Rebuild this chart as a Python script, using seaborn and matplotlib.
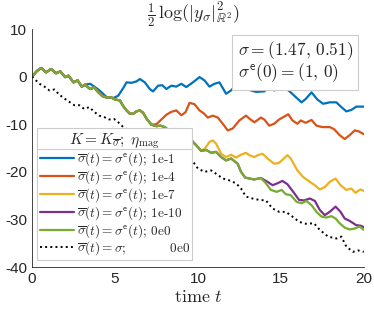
import matplotlib
matplotlib.use("Agg")
import matplotlib.pyplot as plt
from matplotlib.lines import Line2D
import seaborn as sns

# --- data (t, 0.5*log|y|^2) ---
t_green = [0, 0.3, 0.55, 0.85, 1.15, 1.45, 1.7, 2.0, 2.2, 2.5, 2.75, 3.0, 3.2,
           3.5, 3.75, 4.0, 4.25, 4.5, 4.75, 5.0, 5.3, 5.5, 5.7, 5.9, 6.1, 6.3, 6.5,
           6.7, 6.9, 7.2, 7.5, 7.75, 8.0, 8.3, 8.6, 8.9, 9.2, 9.5, 9.7, 9.95,
           10.2, 10.5, 10.8, 11.1, 11.4, 11.7, 12.0, 12.4, 12.6, 12.85, 13.1,
           13.4, 13.8, 14.1, 14.4, 14.75, 15.05, 15.3, 15.6, 15.95, 16.25, 16.55,
           16.85, 17.15, 17.45, 17.75, 18.05, 18.3, 18.55, 18.85, 19.15, 19.45,
           19.75, 20.0]
y_green = [0, 1.2, 1.8, 0.9, 1.6, 0.7, 1.1, -0.1, 0.2, -1.2, -0.8, -2.1, -1.7,
           -2.6, -2.3, -3.3, -4.1, -4.4, -4.3, -4.8, -5.0, -6.2, -7.1, -7.8, -7.8, -7.3, -7.1,
           -7.6, -8.8, -10.1, -10.4, -10.3, -10.6, -11.4, -11.0, -12.6, -13.0, -12.7, -13.7, -14.6,
           -15.6, -15.4, -16.0, -15.8, -16.9, -17.6, -17.2, -18.3, -20.0, -21.2, -21.4,
           -21.6, -21.3, -22.4, -23.8, -24.2, -23.8, -24.7, -24.9, -26.3, -26.6, -26.1,
           -27.0, -28.4, -29.4, -29.6, -29.3, -29.8, -30.8, -31.7, -32.1, -31.9,
           -31.5, -32.2]

# blue (1e-1) leaves the green curve at t = 3.2
t_blue_tail = [3.5, 3.8, 4.1, 4.5, 4.9, 5.2, 5.5, 5.7, 6.0, 6.3, 6.5, 6.8, 7.1,
               7.3, 7.6, 7.85, 8.1, 8.4, 8.7, 9.0, 9.3, 9.7, 10.1, 10.4, 10.7,
               11.0, 11.3, 11.7, 12.0, 12.3, 12.6, 12.9, 13.2, 13.5, 14.0, 14.3,
               14.6, 14.9, 15.2, 15.5, 15.9, 16.25, 16.5, 16.85, 17.2, 17.55,
               17.95, 18.35, 18.65, 18.95, 19.25, 19.55, 20.0]
y_blue_tail = [-1.5, -2.2, -3.0, -4.3, -4.5, -4.0, -2.4, -1.2, -1.3, -1.0, -0.5,
               -1.2, -2.6, -3.1, -1.9, -1.8, -2.6, -1.9, -2.1, -1.5, -2.2, -1.2,
               -0.1, -0.8, -2.1, -1.5, -1.2, -3.6, -2.9, -1.7, -2.2, -2.4, -2.9,
               -3.2, -3.1, -2.2, -2.9, -1.9, -2.3, -3.0, -4.3, -5.4, -4.7, -3.3,
               -4.8, -5.7, -5.4, -5.4, -6.4, -7.3, -7.0, -6.3, -6.3]

# red (1e-4) leaves the green curve at t = 7.2
t_red_tail = [7.5, 7.8, 8.1, 8.4, 8.7, 9.0, 9.25, 9.5, 9.8, 10.1, 10.35, 10.6,
              10.9, 11.2, 11.5, 11.8, 12.1, 12.5, 12.9, 13.1, 13.4, 13.8, 14.0,
              14.3, 14.6, 14.9, 15.45, 15.7, 16.0, 16.2, 16.5, 16.85, 17.15,
              17.5, 17.95, 18.2, 18.55, 18.85, 19.15, 19.45, 19.7, 20.0]
y_red_tail = [-10.0, -9.0, -8.0, -7.4, -7.1, -8.1, -7.5, -5.5, -5.8, -7.1, -7.7,
              -8.6, -8.2, -8.6, -9.9, -11.3, -10.9, -9.2, -8.2, -8.8, -9.6, -8.6,
              -9.0, -10.3, -9.9, -9.0, -7.9, -9.2, -9.9, -9.2, -9.7, -9.1, -10.3,
              -10.6, -10.6, -11.0, -12.3, -13.1, -12.3, -11.3, -11.5, -12.1]

# yellow (1e-7) leaves the green curve at t = 10.2
t_yellow_tail = [10.45, 10.7, 10.9, 11.1, 11.4, 11.7, 12.0, 12.3, 12.6, 12.9,
                 13.1, 13.4, 13.6, 13.9, 14.2, 14.6, 14.9, 15.4, 15.6, 16.0,
                 16.35, 16.75, 17.05, 17.35, 17.65, 17.95, 18.3, 18.6, 18.95,
                 19.25, 19.5, 19.8, 20.0]
y_yellow_tail = [-15.0, -13.7, -13.4, -14.1, -16.2, -16.9, -16.4, -17.0, -16.4,
                 -16.0, -16.5, -16.9, -16.5, -16.2, -17.2, -18.3, -18.1, -16.5,
                 -17.2, -19.7, -21.1, -22.1, -22.8, -23.7, -23.2, -22.1, -21.4,
                 -22.8, -23.8, -23.5, -24.4, -23.7, -24.0]

# purple (1e-10) leaves the green curve at t = 13.8
t_purple_tail = [14.2, 14.5, 14.8, 15.1, 15.4, 15.75, 16.1, 16.4, 16.75, 17.05,
                 17.35, 17.65, 17.95, 18.3, 18.6, 18.85, 19.15, 19.55, 19.8, 20.0]
y_purple_tail = [-22.1, -22.8, -22.4, -21.9, -22.6, -24.2, -25.9, -26.0, -25.6,
                 -26.1, -28.0, -29.1, -28.4, -27.3, -28.4, -29.8, -30.3, -31.2,
                 -31.3, -31.6]

t_black = [0, 0.15, 0.45, 0.75, 1.05, 1.35, 1.65, 1.95, 2.25, 2.55, 2.85, 3.15,
           3.45, 3.75, 4.05, 4.35, 4.65, 4.95, 5.2, 5.5, 5.8, 6.1, 6.4, 6.6, 6.8,
           7.0, 7.5, 7.9, 8.3, 8.7, 9.1, 9.45, 9.7, 10.0, 10.4, 10.8, 11.1, 11.5,
           11.9, 12.3, 12.6, 12.9, 13.3, 13.7, 14.1, 14.5, 14.9, 15.3, 15.7,
           16.1, 16.5, 17.0, 17.35, 17.85, 18.35, 18.65, 18.95, 19.35, 19.65, 20.0]
y_black = [0, -0.5, -1.5, -2.1, -2.9, -2.7, -3.8, -4.6, -5.3, -6.0, -6.0, -6.8,
           -6.4, -7.4, -8.2, -8.5, -9.0, -8.9, -9.6, -10.6, -11.2, -11.0, -11.5,
           -11.6, -12.5, -13.4, -14.4, -14.2, -15.5, -17.0, -17.2, -17.0, -17.8,
           -19.3, -20.0, -19.7, -20.4, -21.4, -21.8, -22.4, -23.5, -25.2, -25.6,
           -25.9, -26.0, -27.7, -28.4, -28.4, -29.4, -30.5, -30.9, -30.8, -32.2,
           -33.6, -34.0, -33.6, -35.7, -36.8, -36.5, -36.8]

eta_labels = ["1e-1", "1e-4", "1e-7", "1e-10", "0e0"]
split_t = {"1e-1": 3.2, "1e-4": 7.2, "1e-7": 10.2, "1e-10": 13.8}
tails = {"1e-1": (t_blue_tail, y_blue_tail),
         "1e-4": (t_red_tail, y_red_tail),
         "1e-7": (t_yellow_tail, y_yellow_tail),
         "1e-10": (t_purple_tail, y_purple_tail)}
colors = ["#0072BD", "#D95319", "#EDB120", "#7E2F8E", "#77AC30"]

sns.set_theme(style="white")
plt.rcParams["font.family"] = ["Liberation Sans", "DejaVu Sans"]
plt.rcParams["mathtext.fontset"] = "cm"
plt.rcParams["axes.unicode_minus"] = False

fig = plt.figure(figsize=(3.74, 3.12), dpi=100)
ax = fig.add_axes([0.0856, 0.144, 0.887, 0.763])

for lab, col in zip(eta_labels, colors):
    if lab in tails:
        k = t_green.index(split_t[lab]) + 1
        tt = t_green[:k] + tails[lab][0]
        yy = y_green[:k] + tails[lab][1]
    else:
        tt, yy = t_green, y_green
    sns.lineplot(x=tt, y=yy, color=col, linewidth=1.6, sort=False, estimator=None,
                 ax=ax, label=r"$\overline{\sigma}(t) = \sigma^{\mathsf{e}}(t)$; " + lab)

sns.lineplot(x=t_black, y=y_black, color="black", linewidth=1.4, linestyle=":",
             sort=False, estimator=None, ax=ax,
             label=r"$\overline{\sigma}(t) = \sigma$;          0e0")

ax.set_xlim(0, 20)
ax.set_ylim(-40, 10)
ax.set_xticks([0, 5, 10, 15, 20])
ax.set_yticks([-40, -30, -20, -10, 0, 10])
ax.tick_params(direction="in", length=3, labelsize=11, colors="#262626", width=0.6)
for s in ["top", "right"]:
    ax.spines[s].set_visible(False)
for s in ["left", "bottom"]:
    ax.spines[s].set_color("#262626")
    ax.spines[s].set_linewidth(0.6)

fig.text(193 / 374, 1 - 14 / 312, r"$\frac{1}{2}\,\log(|y_\sigma|^2_{\mathbb{R}^2})$",
         ha="center", va="center", fontsize=13)
ax.set_xlabel(r"$\mathrm{time}\ t$", fontsize=13, labelpad=2)
ax.set_ylabel("")

ax.text(0.62, 0.955, "$\\sigma = (1.47,\\, 0.51)$\n$\\sigma^{\\mathsf{e}}(0) = (1,\\, 0)$",
        transform=ax.transAxes, ha="left", va="top", fontsize=12.5, linespacing=0.95,
        bbox=dict(boxstyle="square,pad=0.3", facecolor="white", edgecolor="#cccccc", linewidth=0.8))

leg = ax.legend(loc="lower left", bbox_to_anchor=(0.015, 0.03), borderaxespad=0,
                prop={"family": "cmr10", "size": 9.5},
                title=r"$K = K_{\overline{\sigma}};\ \eta_{\mathrm{mag}}$",
                title_fontsize=11, frameon=True, fancybox=False, framealpha=1,
                edgecolor="#cccccc", handlelength=2.6, handletextpad=0.2,
                labelspacing=0.0, borderpad=0.2)
leg.get_frame().set_linewidth(0.8)

# separator under the legend title, as in the reference
fig.canvas.draw()
inv = fig.transFigure.inverted()
fb = leg.get_frame().get_window_extent().transformed(inv)
first = leg.get_texts()[0].get_window_extent().transformed(inv)
ysep = first.y1 + 0.006
fig.add_artist(Line2D([fb.x0, fb.x1], [ysep, ysep], color="#cccccc", linewidth=0.8,
                      transform=fig.transFigure))

fig.savefig("out.png", dpi=100)
